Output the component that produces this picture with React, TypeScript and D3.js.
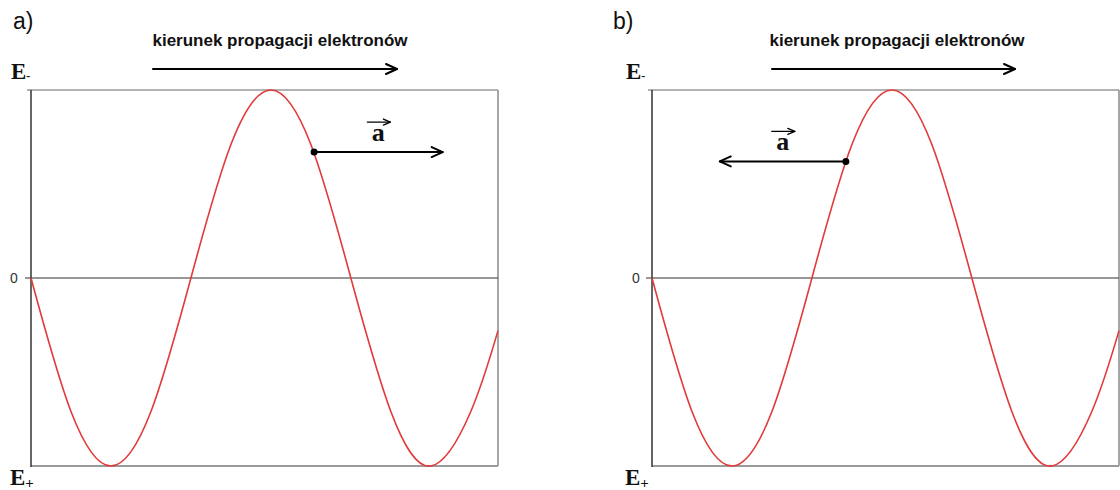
import React from "react";
import * as d3 from "d3";

// Field profile along the wave, x in wavelengths, field in units of the peak value
const wavePhase = [0, 0.125, 0.25, 0.375, 0.5, 0.625, 0.75, 0.875, 1.0, 1.125, 1.25, 1.375, 1.46];
const waveField = [0, -0.71, -1, -0.71, 0, 0.71, 1, 0.71, 0, -0.71, -1, -0.71, -0.28];

// Electron position on the wave and the direction of its acceleration
const panelLabels = ["a)", "b)"];
const electronPhase = [0.885, 0.606];
const electronField = [0.67, 0.62];
const accelDirection = [1, -1];
const accelLength = [0.402, 0.394];

const titleText = "kierunek propagacji elektronów";
const zeroTick = ["0"];

const W = 1120;
const H = 490;
const boxTop = 90;
const boxBottom = 466;
const boxWidth = 467;

const layout = [
  { box: 31, letter: 13, eLabel: 11, zero: 10, titleX: 280, arrowX0: 153, arrowX1: 397 },
  { box: 652, letter: 613, eLabel: 626, zero: 632, titleX: 897, arrowX0: 772, arrowX1: 1015 },
];

const RED = "#e23a3a";

function Arrow({ x0, x1, y, head = 9, spread = 5, width = 2 }: any) {
  const dir = Math.sign(x1 - x0);
  return (
    <g stroke="#000" strokeWidth={width} fill="none" strokeLinecap="round" strokeLinejoin="round">
      <line x1={x0} y1={y} x2={x1} y2={y} />
      <path d={`M${x1 - dir * head},${y - spread} L${x1},${y} L${x1 - dir * head},${y + spread}`} />
    </g>
  );
}

function Panel({ i }: { i: number }) {
  const L = layout[i];
  const x = d3.scaleLinear().domain([0, d3.max(wavePhase)!]).range([L.box, L.box + boxWidth]);
  const y = d3.scaleLinear().domain([-1, 1]).range([boxBottom, boxTop]);
  const pts: [number, number][] = wavePhase.map((p, k) => [p, waveField[k]]);
  const line = d3
    .line<[number, number]>()
    .x((d) => x(d[0]))
    .y((d) => y(d[1]))
    .curve(d3.curveNatural);

  const ex = x(electronPhase[i]);
  const ey = y(electronField[i]);
  const ax = x(electronPhase[i] + accelDirection[i] * accelLength[i]);
  const labelX = (ex + ax) / 2;

  return (
    <g>
      {/* panel letter */}
      <text x={L.letter} y={29} fontFamily="Liberation Sans, Arial, sans-serif" fontSize={23} fill="#111">
        {panelLabels[i]}
      </text>
      {/* propagation direction */}
      <text
        x={L.titleX}
        y={46}
        textAnchor="middle"
        fontFamily="Liberation Sans, Arial, sans-serif"
        fontWeight="bold"
        fontSize={17}
        fill="#111"
      >
        {titleText}
      </text>
      <Arrow x0={L.arrowX0} x1={L.arrowX1} y={69} head={11} spread={5} width={2} />

      {/* E labels */}
      <text x={L.eLabel} y={79} fontFamily="Liberation Serif, Times New Roman, serif" fontWeight="bold" fontSize={23} fill="#111">
        E
        <tspan fontSize={12} dy={1}>-</tspan>
      </text>
      <text x={L.eLabel - 1} y={485} fontFamily="Liberation Serif, Times New Roman, serif" fontWeight="bold" fontSize={23} fill="#111">
        E
        <tspan fontSize={15} dy={3}>+</tspan>
      </text>

      {/* frame */}
      <line x1={L.box - 4} y1={boxTop} x2={L.box + boxWidth} y2={boxTop} stroke="#9a9a9a" strokeWidth={1.5} />
      <line x1={L.box + boxWidth} y1={boxTop} x2={L.box + boxWidth} y2={boxBottom} stroke="#8a8a8a" strokeWidth={1.5} />
      <line x1={L.box} y1={boxBottom} x2={L.box + boxWidth} y2={boxBottom} stroke="#9a9a9a" strokeWidth={2} />
      <line x1={L.box} y1={boxTop} x2={L.box} y2={boxBottom + 1} stroke="#333" strokeWidth={1.5} />
      {/* zero level */}
      <line x1={L.box - 6} y1={y(0)} x2={L.box + boxWidth} y2={y(0)} stroke="#333" strokeWidth={1.2} />
      <text
        x={L.zero}
        y={y(0) + 5}
        fontFamily="Liberation Sans, Arial, sans-serif"
        fontSize={14}
        fill="#333"
      >
        {zeroTick[0]}
      </text>

      {/* wave */}
      <path d={line(pts) || ""} fill="none" stroke={RED} strokeWidth={1.6} />

      {/* electron and acceleration vector */}
      <Arrow x0={ex} x1={ax} y={ey} head={11} spread={5} width={2} />
      <circle cx={ex} cy={ey} r={3.5} fill="#000" />
      <text
        x={labelX}
        y={ey - 11}
        textAnchor="middle"
        fontFamily="Liberation Serif, Times New Roman, serif"
        fontWeight="bold"
        fontSize={26}
        fill="#111"
      >
        a
      </text>
      <Arrow x0={labelX - 11} x1={labelX + 12} y={ey - 30} head={7} spread={3} width={1.3} />
    </g>
  );
}

export default function App() {
  return (
    <svg
      width={W}
      height={H}
      viewBox={`0 0 ${W} ${H}`}
      style={{ position: "absolute", left: 0, top: 0, background: "#fff" }}
    >
      <rect width={W} height={H} fill="#fff" />
      {panelLabels.map((_, i) => (
        <Panel key={i} i={i} />
      ))}
    </svg>
  );
}
